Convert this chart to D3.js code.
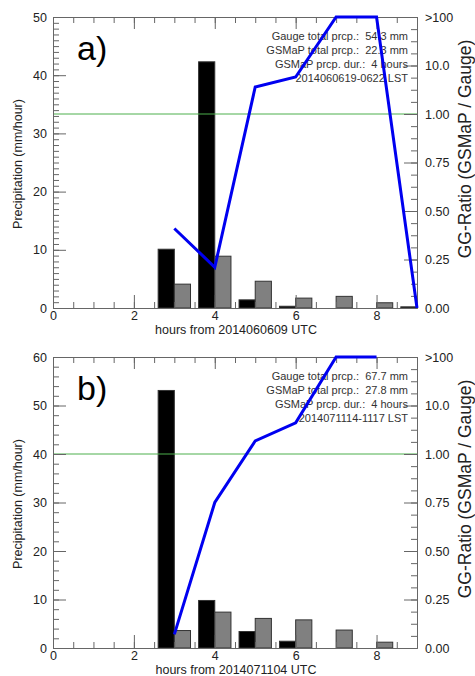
<!DOCTYPE html>
<html>
<head>
<meta charset="utf-8">
<script src="https://cdn.jsdelivr.net/npm/d3@7"></script>
<style>
  body { margin: 0; background: #fff; }
  svg { display: block; font-family: "Liberation Sans", Arial, sans-serif; }
</style>
</head>
<body>
<svg id="chart" width="475" height="676"></svg>
<script>

// hour slots (bars sit either side of each hour mark)
const hourSlots = [1, 2, 3, 4, 5, 6, 7, 8, 9];

// panel a) 2014-06-06
const gaugeA = [0, 0, 10.1, 42.3, 1.4, 0.3, 0, 0, 0.2];
const gsmapA = [0, 0, 4.1, 8.9, 4.6, 1.7, 2.0, 0.9, 0];
const ratioHoursA = [3, 4, 5, 6, 7, 8, 9];
const ratioA = [0.41, 0.21, 3.6, 5.8, 100, 100, 0]; // 100 = ">100"
const infoA = ['Gauge total prcp.:  54.3 mm', 'GSMaP total prcp.:  22.3 mm',
  'GSMaP prcp. dur.:  4 hours', '2014060619-0622 LST'];
const xTitleA = 'hours from 2014060609 UTC';
const yMaxA = 50;

// panel b) 2014-07-11
const gaugeB = [0, 0, 53.1, 9.8, 3.4, 1.4, 0, 0, 0];
const gsmapB = [0, 0, 3.6, 7.4, 6.1, 5.8, 3.7, 1.2, 0];
const ratioHoursB = [3, 4, 5, 6, 7, 8];
const ratioB = [0.07, 0.75, 1.86, 4.4, 100, 100];
const infoB = ['Gauge total prcp.:  67.7 mm', 'GSMaP total prcp.:  27.8 mm',
  'GSMaP prcp. dur.:  4 hours', '2014071114-1117 LST'];
const xTitleB = 'hours from 2014071104 UTC';
const yMaxB = 60;

// shared axis labels
const xTicks = [0, 2, 4, 6, 8];
const ratioTicks = [0, 0.25, 0.5, 0.75, 1, 10, 100];
const ratioTickLabels = ['0.00', '0.25', '0.50', '0.75', '1.00', '10.0', '>100'];

const panels = [
  { label: 'a)', top: 17, gauge: gaugeA, gsmap: gsmapA, rHours: ratioHoursA, ratio: ratioA,
    info: infoA, xTitle: xTitleA, yMax: yMaxA, yMinor: 1 },
  { label: 'b)', top: 357, gauge: gaugeB, gsmap: gsmapB, rHours: ratioHoursB, ratio: ratioB,
    info: infoB, xTitle: xTitleB, yMax: yMaxB, yMinor: 2 }
];

const left = 53, right = 417, plotH = 291;
const axisColor = '#666';
const barW = 0.4;

// ratio axis: linear 0..1 then one unit per decade up to 100
function ratioUnit(r) {
  if (r <= 1) return r * 4;
  return 4 + Math.log10(Math.min(r, 100));
}

const svg = d3.select('#chart');

const x = d3.scaleLinear().domain([0, 9]).range([left, right]);

panels.forEach(function (p) {
  const bottom = p.top + plotH;
  const y = d3.scaleLinear().domain([0, p.yMax]).range([bottom, p.top]);
  const r = d3.scaleLinear().domain([0, 6]).range([bottom, p.top]);

  const g = svg.append('g');

  const bars = [];
  hourSlots.forEach(function (h, i) {
    if (p.gauge[i] > 0) bars.push({ x0: h - barW, x1: h, v: p.gauge[i], fill: '#000' });
    if (p.gsmap[i] > 0) bars.push({ x0: h, x1: h + barW, v: p.gsmap[i], fill: '#808080' });
  });

  // bars
  g.append('g')
    .selectAll('rect')
    .data(bars)
    .enter()
    .append('rect')
      .attr('x', d => x(d.x0))
      .attr('y', d => y(d.v))
      .attr('width', d => x(d.x1) - x(d.x0))
      .attr('height', d => y(0) - y(d.v))
      .attr('fill', d => d.fill)
      .attr('stroke', '#333')
      .attr('stroke-width', 1);

  // ratio = 1 reference
  g.append('line')
    .attr('x1', x(0))
    .attr('x2', x(9))
    .attr('y1', r(ratioUnit(1)))
    .attr('y2', r(ratioUnit(1)))
    .attr('stroke', '#4caf4c')
    .attr('stroke-width', 1);

  // axes
  const styleAxis = function (sel) {
    sel.selectAll('.domain, line').attr('stroke', axisColor);
    sel.selectAll('text').attr('fill', '#222').style('font-size', '12.5px')
      .style('font-family', '"Liberation Sans", Arial, sans-serif');
  };

  g.append('g').attr('transform', `translate(0,${bottom})`)
    .call(d3.axisBottom(x).tickValues(d3.range(0, 9.01, 0.5)).tickFormat('').tickSize(-6).tickSizeOuter(0))
    .call(styleAxis);
  g.append('g').attr('transform', `translate(0,${bottom})`)
    .call(d3.axisBottom(x).tickValues(xTicks).tickFormat(d3.format('d')).tickSize(-13).tickSizeOuter(0).tickPadding(3))
    .call(styleAxis);

  g.append('g').attr('transform', `translate(0,${p.top})`)
    .call(d3.axisTop(x).tickValues(d3.range(0, 9.01, 0.5)).tickFormat('').tickSize(-6).tickSizeOuter(0))
    .call(styleAxis);
  g.append('g').attr('transform', `translate(0,${p.top})`)
    .call(d3.axisTop(x).tickValues(xTicks).tickFormat('').tickSize(-12).tickSizeOuter(0))
    .call(styleAxis);

  g.append('g').attr('transform', `translate(${left},0)`)
    .call(d3.axisLeft(y).tickValues(d3.range(0, p.yMax + 0.01, p.yMinor)).tickFormat('').tickSize(-6).tickSizeOuter(0))
    .call(styleAxis);
  g.append('g').attr('transform', `translate(${left},0)`)
    .call(d3.axisLeft(y).tickValues(d3.range(0, p.yMax + 1, 10)).tickSize(-13).tickSizeOuter(0).tickPadding(6))
    .call(styleAxis);

  g.append('g').attr('transform', `translate(${right},0)`)
    .call(d3.axisRight(r).tickValues(d3.range(0, 6.01, 0.25)).tickFormat('').tickSize(-6).tickSizeOuter(0))
    .call(styleAxis);
  g.append('g').attr('transform', `translate(${right},0)`)
    .call(d3.axisRight(r).tickValues(ratioTicks.map(ratioUnit))
      .tickFormat((d, i) => ratioTickLabels[i]).tickSize(-13).tickSizeOuter(0).tickPadding(8))
    .call(styleAxis);

  // axis titles
  g.append('text')
    .attr('transform', `translate(22,${p.top + 147}) rotate(-90)`)
    .attr('text-anchor', 'middle')
    .style('font-size', '12.5px')
    .attr('fill', '#222')
    .text('Precipitation (mm/hour)');

  g.append('text')
    .attr('transform', `translate(471,${p.top + 132}) rotate(-90)`)
    .attr('text-anchor', 'middle')
    .style('font-size', '17.5px')
    .attr('fill', '#222')
    .text('GG-Ratio (GSMaP / Gauge)');

  g.append('text')
    .attr('x', 236)
    .attr('y', bottom + 25.5)
    .attr('text-anchor', 'middle')
    .style('font-size', '12.5px')
    .attr('fill', '#222')
    .text(p.xTitle);

  // panel label
  g.append('text')
    .attr('x', 77)
    .attr('y', p.top + 43)
    .style('font-size', '34px')
    .attr('fill', '#000')
    .text(p.label);

  // info block
  g.append('g')
    .selectAll('text')
    .data(p.info)
    .enter()
    .append('text')
      .attr('x', 408)
      .attr('y', (d, i) => p.top + 23 + i * 14)
      .attr('text-anchor', 'end')
      .style('font-size', '11px')
      .style('white-space', 'pre')
      .attr('fill', '#333')
      .text(d => d);

  // ratio line
  const pts = p.rHours.map((h, i) => [h, p.ratio[i]]);
  g.append('path')
    .datum(pts)
    .attr('fill', 'none')
    .attr('stroke', '#0000f0')
    .attr('stroke-width', 3)
    .attr('d', d3.line().x(d => x(d[0])).y(d => r(ratioUnit(d[1]))));
});

</script>
</body>
</html>
